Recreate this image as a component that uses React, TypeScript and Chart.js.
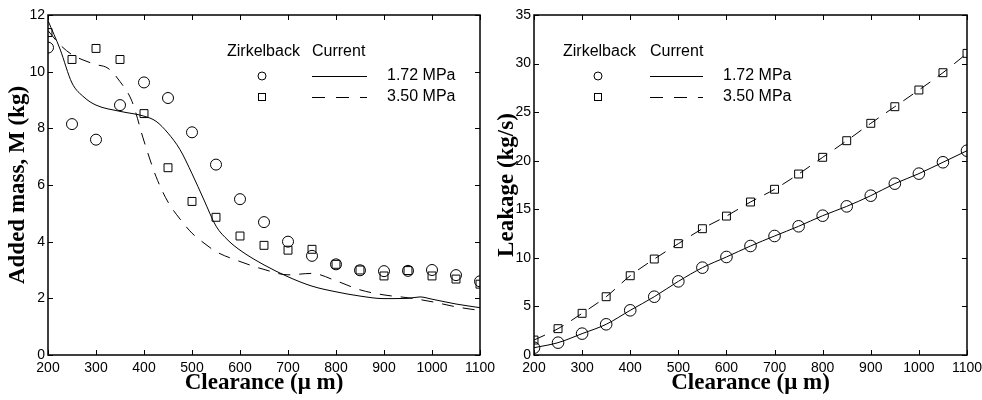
import React, { useEffect, useRef } from "react";
import { Chart, registerables } from "chart.js";
Chart.register(...registerables);

// ---------- data ----------
const clearance = [200, 250, 300, 350, 400, 450, 500, 550, 600, 650, 700, 750, 800, 850, 900, 950, 1000, 1050, 1100];

// Added mass (kg) — Zirkelback measurements
const massZirk172 = [10.85, 8.15, 7.6, 8.82, 9.62, 9.07, 7.86, 6.72, 5.5, 4.69, 4.0, 3.5, 3.2, 2.99, 2.96, 2.97, 3.0, 2.82, 2.6];
const massZirk350 = [11.38, 10.43, 10.82, 10.43, 8.52, 6.61, 5.42, 4.86, 4.2, 3.87, 3.7, 3.73, 3.2, 3.0, 2.79, 2.98, 2.79, 2.68, 2.5];

// Added mass (kg) — current model
const massCurX172 = [200, 225, 250, 275, 300, 350, 400, 425, 450, 475, 500, 525, 550, 575, 600, 650, 700, 750, 800, 850, 900, 950, 975, 1000, 1050, 1100];
const massCur172 = [11.8, 10.8, 9.6, 9.1, 8.82, 8.6, 8.43, 8.25, 7.83, 7.25, 6.4, 5.47, 4.55, 4.05, 3.7, 3.18, 2.76, 2.43, 2.23, 2.08, 1.99, 2.0, 2.05, 1.97, 1.8, 1.67];
const massCurX350 = [200, 225, 250, 275, 300, 325, 350, 375, 400, 425, 450, 475, 500, 525, 550, 600, 650, 700, 750, 800, 850, 900, 950, 1000, 1050, 1100];
const massCur350 = [11.45, 10.95, 10.6, 10.4, 10.25, 10.12, 9.65, 8.95, 7.55, 6.3, 5.4, 4.8, 4.3, 3.95, 3.65, 3.3, 3.02, 2.83, 2.88, 2.62, 2.3, 2.12, 2.02, 1.88, 1.7, 1.57];

// Leakage (kg/s)
const leakZirk172 = [0.75, 1.27, 2.2, 3.16, 4.6, 6.0, 7.58, 8.99, 10.09, 11.22, 12.25, 13.25, 14.34, 15.3, 16.4, 17.64, 18.67, 19.84, 21.03];
const leakZirk350 = [1.54, 2.71, 4.29, 6.0, 8.16, 9.88, 11.46, 13.0, 14.3, 15.75, 17.06, 18.63, 20.35, 22.06, 23.85, 25.56, 27.28, 29.06, 31.05];
const leakCur172 = [0.75, 1.27, 2.2, 3.16, 4.6, 6.0, 7.58, 8.99, 10.09, 11.22, 12.25, 13.25, 14.34, 15.3, 16.4, 17.64, 18.67, 19.84, 21.03];
const leakCur350 = [1.54, 2.71, 4.29, 6.0, 8.16, 9.88, 11.46, 13.0, 14.3, 15.75, 17.06, 18.63, 20.35, 22.06, 23.85, 25.56, 27.28, 29.06, 31.05];

const xTicks = [200, 300, 400, 500, 600, 700, 800, 900, 1000, 1100];
const massTicks = [0, 2, 4, 6, 8, 10, 12];
const leakTicks = [0, 5, 10, 15, 20, 25, 30, 35];

const legendHead = ["Zirkelback", "Current"];
const legendLabels = ["1.72 MPa", "3.50 MPa"];
const xTitle = "Clearance (\u03bc m)";
const massTitle = "Added mass, M (kg)";
const leakTitle = "Leakage (kg/s)";

// ---------- helpers ----------
const pts = (xs: number[], ys: number[]) => xs.map((x, i) => ({ x, y: ys[i] }));
const SANS = "'Liberation Sans', Arial, Helvetica, sans-serif";
const SERIF = "'Liberation Serif', 'Times New Roman', serif";

const frameTicks = {
  id: "frameTicks",
  afterDraw(chart: any) {
    const { ctx, chartArea: a, scales } = chart;
    const xs = scales.x, ys = scales.y;
    ctx.save();
    ctx.strokeStyle = "#000";
    ctx.lineWidth = 1;
    const tl = 5;
    ctx.beginPath();
    xs.ticks.forEach((t: any) => {
      const px = Math.round(xs.getPixelForValue(t.value)) + 0.5;
      ctx.moveTo(px, a.bottom); ctx.lineTo(px, a.bottom - tl);
      ctx.moveTo(px, a.top); ctx.lineTo(px, a.top + tl);
    });
    ys.ticks.forEach((t: any) => {
      const py = Math.round(ys.getPixelForValue(t.value)) + 0.5;
      ctx.moveTo(a.left, py); ctx.lineTo(a.left + tl, py);
      ctx.moveTo(a.right, py); ctx.lineTo(a.right - tl, py);
    });
    ctx.stroke();
    ctx.lineWidth = 1.5;
    ctx.strokeRect(a.left, a.top, a.right - a.left, a.bottom - a.top);
    ctx.restore();
  },
};

const customLegend = {
  id: "customLegend",
  afterDraw(chart: any, _args: any, opts: any) {
    const { ctx } = chart;
    const { headX, curX, markX, lineX0, lineX1, textX, headY, rowY } = opts;
    ctx.save();
    ctx.fillStyle = "#000";
    ctx.strokeStyle = "#000";
    ctx.font = `16px ${SANS}`;
    ctx.textBaseline = "middle";
    ctx.textAlign = "left";
    ctx.fillText(legendHead[0], headX, headY);
    ctx.fillText(legendHead[1], curX, headY);
    ctx.lineWidth = 1;
    ctx.beginPath();
    ctx.arc(markX, rowY[0], 4, 0, Math.PI * 2);
    ctx.stroke();
    ctx.strokeRect(markX - 3.5, rowY[1] - 3.5, 7, 7);
    ctx.beginPath();
    ctx.moveTo(lineX0, rowY[0] + 0.5); ctx.lineTo(lineX1, rowY[0] + 0.5);
    ctx.stroke();
    ctx.setLineDash([13, 11]);
    ctx.beginPath();
    ctx.moveTo(lineX0, rowY[1] + 0.5); ctx.lineTo(lineX1, rowY[1] + 0.5);
    ctx.stroke();
    ctx.setLineDash([]);
    ctx.fillText(legendLabels[0], textX, rowY[0]);
    ctx.fillText(legendLabels[1], textX, rowY[1]);
    ctx.restore();
  },
};

function buildConfig(p: {
  c172: { x: number; y: number }[];
  c350: { x: number; y: number }[];
  z172: { x: number; y: number }[];
  z350: { x: number; y: number }[];
  yTicks: number[];
  yTitle: string;
  yWidth: number;
  yTitlePad: number;
  padRight: number;
  legend: any;
  markR: number;
}) {
  const yMax = p.yTicks[p.yTicks.length - 1];
  return {
    type: "scatter",
    data: {
      datasets: [
        {
          label: "Current 1.72 MPa",
          data: p.c172,
          showLine: true,
          borderColor: "#000",
          borderWidth: 1,
          pointRadius: 0,
          cubicInterpolationMode: "monotone",
          fill: false,
        },
        {
          label: "Current 3.50 MPa",
          data: p.c350,
          showLine: true,
          borderColor: "#000",
          borderWidth: 1,
          borderDash: [12, 9],
          pointRadius: 0,
          cubicInterpolationMode: "monotone",
          fill: false,
        },
        {
          label: "Zirkelback 1.72 MPa",
          data: p.z172,
          showLine: false,
          pointStyle: "circle",
          pointRadius: p.markR,
          borderColor: "#000",
          backgroundColor: "rgba(0,0,0,0)",
          pointBorderWidth: 1,
        },
        {
          label: "Zirkelback 3.50 MPa",
          data: p.z350,
          showLine: false,
          pointStyle: "rect",
          pointRadius: 5.6,
          borderColor: "#000",
          backgroundColor: "rgba(0,0,0,0)",
          pointBorderWidth: 1,
        },
      ],
    },
    options: {
      responsive: false,
      animation: false,
      devicePixelRatio: 1,
      layout: { padding: { top: 15, right: p.padRight, left: 0, bottom: 0 } },
      plugins: {
        legend: { display: false },
        tooltip: { enabled: false },
        customLegend: p.legend,
      },
      scales: {
        x: {
          type: "linear",
          min: 200,
          max: 1100,
          afterBuildTicks: (s: any) => { s.ticks = xTicks.map((v) => ({ value: v })); },
          ticks: {
            color: "#000",
            font: { family: SANS, size: 14 },
            padding: 5,
            maxRotation: 0,
            autoSkip: false,
            callback: (v: any) => String(v),
          },
          grid: { display: false, drawTicks: false },
          border: { display: false },
          title: {
            display: true,
            text: xTitle,
            color: "#000",
            font: { family: SERIF, size: 23, weight: "bold" },
            padding: { top: 0, bottom: 3 },
          },
          afterFit: (s: any) => { s.height = 45; s.paddingLeft = 0; s.paddingRight = 0; },
        },
        y: {
          type: "linear",
          min: 0,
          max: yMax,
          afterBuildTicks: (s: any) => { s.ticks = p.yTicks.map((v) => ({ value: v })); },
          ticks: {
            color: "#000",
            font: { family: SANS, size: 14 },
            padding: 3,
            callback: (v: any) => String(v),
          },
          grid: { display: false, drawTicks: false },
          border: { display: false },
          title: {
            display: true,
            text: p.yTitle,
            color: "#000",
            font: { family: SERIF, size: 23, weight: "bold" },
            padding: { top: p.yTitlePad, bottom: 0 },
          },
          afterFit: (s: any) => { s.width = p.yWidth; s.paddingTop = 0; s.paddingBottom = 0; },
        },
      },
    },
    plugins: [frameTicks, customLegend],
  };
}

export default function App() {
  const leftRef = useRef<HTMLCanvasElement | null>(null);
  const rightRef = useRef<HTMLCanvasElement | null>(null);

  useEffect(() => {
    const left = new Chart(
      leftRef.current as HTMLCanvasElement,
      buildConfig({
        c172: pts(massCurX172, massCur172),
        c350: pts(massCurX350, massCur350),
        z172: pts(clearance, massZirk172),
        z350: pts(clearance, massZirk350),
        yTicks: massTicks,
        yTitle: massTitle,
        yWidth: 48,
        yTitlePad: 4,
        padRight: 51,
        markR: 5.5,
        legend: { headX: 227, curX: 312, markX: 262, lineX0: 312, lineX1: 367, textX: 387, headY: 52, rowY: [76, 97] },
      }) as any
    );
    const right = new Chart(
      rightRef.current as HTMLCanvasElement,
      buildConfig({
        c172: pts(clearance, leakCur172),
        c350: pts(clearance, leakCur350),
        z172: pts(clearance, leakZirk172),
        z350: pts(clearance, leakZirk350),
        yTicks: leakTicks,
        yTitle: leakTitle,
        yWidth: 43,
        yTitlePad: 2,
        padRight: 15,
        markR: 5.8,
        legend: { headX: 72, curX: 159, markX: 107, lineX0: 159, lineX1: 212, textX: 232, headY: 52, rowY: [76, 97] },
      }) as any
    );
    return () => {
      left.destroy();
      right.destroy();
    };
  }, []);

  return (
    <div style={{ position: "fixed", left: 0, top: 0, width: 982, height: 400, background: "#fff", overflow: "hidden" }}>
      <canvas ref={leftRef} width={531} height={400} style={{ position: "absolute", left: 0, top: 0, zIndex: 1 }} />
      <canvas ref={rightRef} width={491} height={400} style={{ position: "absolute", left: 491, top: 0, zIndex: 2 }} />
    </div>
  );
}
